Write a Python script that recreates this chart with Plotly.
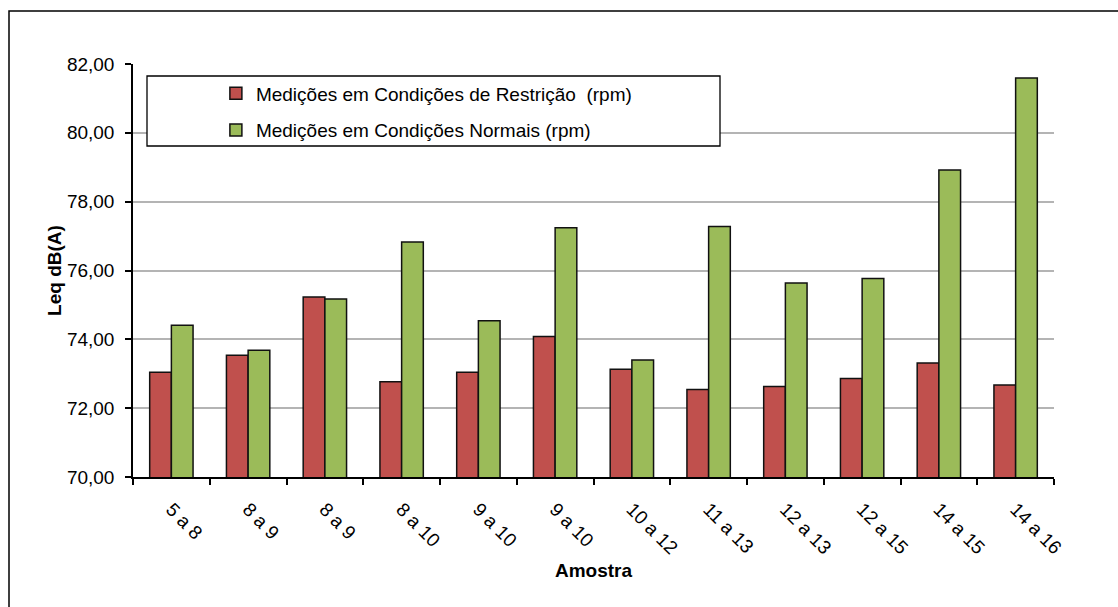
import plotly.graph_objects as go

# Sample intervals (x categories)
amostras = ["5 a 8", "8 a 9", "8 a 9 ", "8 a 10", "9 a 10", "9 a 10 ",
            "10 a 12", "11 a 13", "12 a 13", "12 a 15", "14 a 15", "14 a 16"]

# Leq dB(A) per sample
restricao = [73.04, 73.54, 75.23, 72.77, 73.04, 74.08,
             73.13, 72.54, 72.63, 72.86, 73.31, 72.67]
normais = [74.41, 73.68, 75.17, 76.83, 74.54, 77.24,
           73.40, 77.28, 75.64, 75.77, 78.92, 81.59]

nome_restricao = "Medições em Condições de Restrição  (rpm)"
nome_normais = "Medições em Condições Normais (rpm)"

y_ticks = [70, 72, 74, 76, 78, 80, 82]

FONT = "Liberation Sans, Arial, sans-serif"
FS = 19

fig = go.Figure()
fig.add_trace(go.Bar(
    x=amostras, y=restricao, name=nome_restricao, legendgroup="r",
    marker=dict(color="#C0504D", line=dict(color="#111111", width=1.5)),
))
fig.add_trace(go.Bar(
    x=amostras, y=normais, name=nome_normais, legendgroup="n",
    marker=dict(color="#9BBB59", line=dict(color="#111111", width=1.5)),
))

fig.update_layout(
    width=1118, height=607,
    margin=dict(l=133, r=64, t=64, b=130),
    paper_bgcolor="white", plot_bgcolor="white",
    separators=",.",
    barmode="group", bargap=0.435, bargroupgap=0,
    font=dict(family=FONT, size=FS, color="#000000"),
    showlegend=True,
    legend=dict(
        x=0.09, y=0.975, xanchor="left", yanchor="top",
        bgcolor="rgba(0,0,0,0)", borderwidth=0,
        font=dict(family=FONT, size=FS, color="#000000"),
        tracegroupgap=9,
    ),
    xaxis=dict(
        type="category",
        showline=True, linecolor="#000000", linewidth=1.5,
        ticks="outside", ticklen=6, tickcolor="#000000", tickwidth=1.5,
        tickson="boundaries",
        tickangle=45,
        ticklabelstandoff=12,
        tickfont=dict(family=FONT, size=FS),
        showgrid=False,
        title=dict(text="<b>Amostra</b>", font=dict(family=FONT, size=FS), standoff=6),
    ),
    yaxis=dict(
        range=[70, 82], tickvals=y_ticks, tickformat=".2f",
        showline=True, linecolor="#000000", linewidth=1.5,
        ticks="outside", ticklen=6, tickcolor="#000000", tickwidth=1.5,
        ticklabelstandoff=7,
        showgrid=True, gridcolor="#b4b4b4", gridwidth=1.5,
        tickfont=dict(family=FONT, size=FS),
        zeroline=False,
        title=dict(text="<b>Leq dB(A)</b>", font=dict(family=FONT, size=FS), standoff=0),
    ),
    shapes=[
        # outer chart frame
        dict(type="rect", xref="paper", yref="paper",
             x0=-124 / 921, x1=1.2, y0=-0.5, y1=(607 - 11 - 130) / 413,
             line=dict(color="#000000", width=1.5), fillcolor="rgba(0,0,0,0)",
             layer="below"),
        # legend box
        dict(type="rect", xref="paper", yref="paper",
             x0=(147 - 133) / 921, x1=(720 - 133) / 921,
             y0=(477 - 146) / 413, y1=(477 - 76) / 413,
             line=dict(color="#000000", width=1.3), fillcolor="white",
             layer="above"),
    ],
)

fig.write_html("out.html")
